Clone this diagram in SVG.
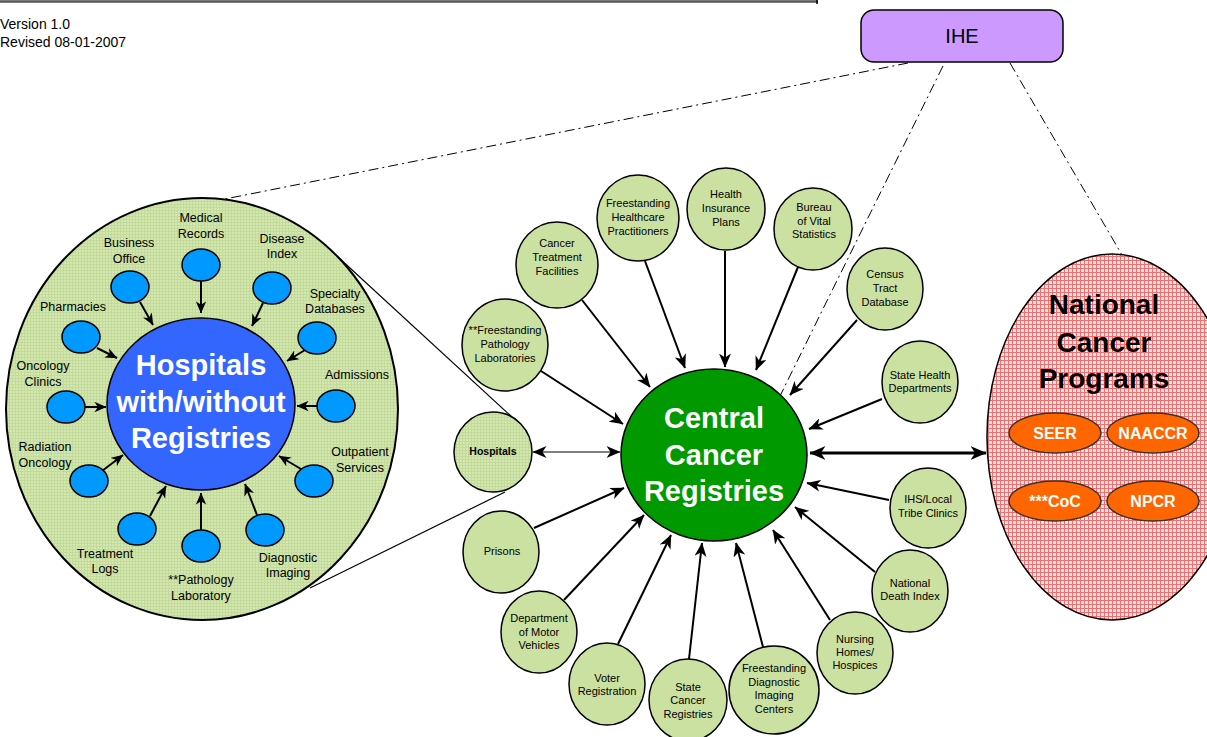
<svg xmlns="http://www.w3.org/2000/svg" width="1207" height="737" viewBox="0 0 1207 737">
<defs>
<pattern id="gridG" width="3" height="3" patternUnits="userSpaceOnUse">
<rect width="3" height="3" fill="#d3e7b0"/>
<path d="M0,0.5H3M0.5,0V3" stroke="#c3da9a" stroke-width="1"/>
</pattern>
<pattern id="gridR" width="4" height="4" patternUnits="userSpaceOnUse">
<rect width="4" height="4" fill="#ffe2e2"/>
<path d="M0,0.5H4M0.5,0V4" stroke="#ee7070" stroke-width="1"/>
</pattern>
<marker id="ah" viewBox="0 0 14 12" refX="13.5" refY="6" markerWidth="14" markerHeight="12" markerUnits="userSpaceOnUse" orient="auto-start-reverse">
<path d="M0,0 L14,6 L0,12 L4,6 Z" fill="#000"/>
</marker>
<marker id="ahs" viewBox="0 0 14 12" refX="13.5" refY="6" markerWidth="12" markerHeight="11" markerUnits="userSpaceOnUse" orient="auto-start-reverse">
<path d="M0,0 L14,6 L0,12 L4,6 Z" fill="#000"/>
</marker>
<marker id="ahb" viewBox="0 0 14 12" refX="13.5" refY="6" markerWidth="16" markerHeight="14" markerUnits="userSpaceOnUse" orient="auto-start-reverse">
<path d="M0,0 L14,6 L0,12 L4,6 Z" fill="#000"/>
</marker>
</defs>
<style>
.t{font-family:"Liberation Sans",Arial,sans-serif;fill:#000;}
.s{font-size:11px;text-anchor:middle;}
.h{font-size:12.5px;text-anchor:middle;}
.big{font-size:29px;font-weight:bold;fill:#fff;text-anchor:middle;}
.sat{fill:#cbe1a2;stroke:#000;stroke-width:1.5;}
.bl{fill:#0099ff;stroke:#000;stroke-width:1.5;}
.or{fill:#ff6600;stroke:#333;stroke-width:1.5;}
.ot{font-size:16px;font-weight:bold;fill:#fff;text-anchor:middle;}
.a{stroke:#000;stroke-width:2;fill:none;marker-end:url(#ah);}
.ai{stroke:#000;stroke-width:2;fill:none;marker-end:url(#ahs);}
.dd{stroke:#000;stroke-width:1;fill:none;stroke-dasharray:10,4,2,4;}
.thin{stroke:#000;stroke-width:1.2;fill:none;}
</style>
<rect width="1207" height="737" fill="#fff"/>
<g id="header">
<line x1="0" y1="1.5" x2="818" y2="1.5" stroke="#555" stroke-width="2.5"/>
<line x1="817" y1="0" x2="817" y2="4" stroke="#000" stroke-width="1.5"/>
<text class="t" x="0" y="29" font-size="14">Version 1.0</text>
<text class="t" x="0" y="47" font-size="14">Revised 08-01-2007</text>
</g>
<g id="hospitals-area">
<ellipse cx="202" cy="409" rx="196" ry="211" fill="url(#gridG)" stroke="#000" stroke-width="2"/>
</g>
<g id="connectors">
<line class="dd" x1="908" y1="63" x2="225" y2="199"/>
<line class="dd" x1="943" y1="66" x2="780" y2="396"/>
<line class="dd" x1="1010" y1="63" x2="1122" y2="255"/>
<line class="thin" x1="338" y1="257" x2="513" y2="418"/>
<line class="thin" x1="310" y1="588" x2="505" y2="492"/>
<line class="ai" x1="201" y1="281" x2="201" y2="313"/>
<line class="ai" x1="140" y1="302" x2="153" y2="325"/>
<line class="ai" x1="263" y1="303" x2="252" y2="326"/>
<line class="ai" x1="97" y1="348" x2="117" y2="358"/>
<line class="ai" x1="305" y1="350" x2="287" y2="361"/>
<line class="ai" x1="85" y1="407" x2="106" y2="407"/>
<line class="ai" x1="317" y1="406" x2="297" y2="406"/>
<line class="ai" x1="102" y1="471" x2="123" y2="455"/>
<line class="ai" x1="301" y1="469" x2="279" y2="456"/>
<line class="ai" x1="150" y1="516" x2="166" y2="486"/>
<line class="ai" x1="201" y1="530" x2="201" y2="493"/>
<line class="ai" x1="257" y1="515" x2="245" y2="484"/>
<line class="a" x1="541" y1="371" x2="623" y2="424"/>
<line class="a" x1="582" y1="300" x2="650" y2="387"/>
<line class="a" x1="645" y1="261" x2="685" y2="368"/>
<line class="a" x1="725" y1="251" x2="725" y2="367"/>
<line class="a" x1="798" y1="267" x2="756" y2="370"/>
<line class="a" x1="857" y1="320" x2="790" y2="395"/>
<line class="a" x1="882" y1="399" x2="809" y2="429"/>
<line class="a" x1="889" y1="500" x2="807" y2="483"/>
<line class="a" x1="875" y1="572" x2="795" y2="507"/>
<line class="a" x1="830" y1="620" x2="773" y2="530"/>
<line class="a" x1="763" y1="647" x2="736" y2="543"/>
<line class="a" x1="689" y1="659" x2="702" y2="543"/>
<line class="a" x1="618" y1="644" x2="671" y2="535"/>
<line class="a" x1="564" y1="600" x2="644" y2="515"/>
<line class="a" x1="534" y1="528" x2="624" y2="488"/>
<line stroke="#000" stroke-width="1.2" x1="533" y1="452" x2="620" y2="452" marker-start="url(#ah)" marker-end="url(#ah)"/>
<line stroke="#000" stroke-width="3" x1="810" y1="453" x2="986" y2="453" marker-start="url(#ahb)" marker-end="url(#ahb)"/>
</g>
<g id="ihe">
<rect x="861" y="10" width="202" height="52" rx="13" fill="#cc99ff" stroke="#000" stroke-width="1.5"/>
<text class="t" x="962" y="43" font-size="20" text-anchor="middle">IHE</text>
</g>
<g id="hospitals-core">
<ellipse cx="201" cy="404" rx="94" ry="86" fill="#3366ff" stroke="#000" stroke-width="1.5"/>
<text class="t big" x="201" y="375">Hospitals</text>
<text class="t big" x="201" y="412">with/without</text>
<text class="t big" x="201" y="448">Registries</text>
</g>
<g id="h-medical"><ellipse class="bl" cx="201" cy="265" rx="19" ry="16"/><text class="t h" x="201" y="222">Medical</text><text class="t h" x="201" y="238">Records</text></g>
<g id="h-business"><ellipse class="bl" cx="130" cy="287" rx="19" ry="16"/><text class="t h" x="129" y="247">Business</text><text class="t h" x="129" y="263">Office</text></g>
<g id="h-disease"><ellipse class="bl" cx="272" cy="288" rx="19" ry="16"/><text class="t h" x="282" y="243">Disease</text><text class="t h" x="282" y="258">Index</text></g>
<g id="h-pharm"><ellipse class="bl" cx="81" cy="337" rx="19" ry="16"/><text class="t h" x="73" y="311">Pharmacies</text></g>
<g id="h-special"><ellipse class="bl" cx="317" cy="338" rx="19" ry="16"/><text class="t h" x="335" y="298">Specialty</text><text class="t h" x="335" y="313">Databases</text></g>
<g id="h-onc"><ellipse class="bl" cx="66" cy="407" rx="19" ry="16"/><text class="t h" x="43" y="370">Oncology</text><text class="t h" x="43" y="386">Clinics</text></g>
<g id="h-adm"><ellipse class="bl" cx="336" cy="406" rx="19" ry="16"/><text class="t h" x="357" y="379">Admissions</text></g>
<g id="h-rad"><ellipse class="bl" cx="89" cy="481" rx="19" ry="16"/><text class="t h" x="45" y="451">Radiation</text><text class="t h" x="45" y="467">Oncology</text></g>
<g id="h-out"><ellipse class="bl" cx="314" cy="481" rx="19" ry="16"/><text class="t h" x="360" y="456">Outpatient</text><text class="t h" x="360" y="472">Services</text></g>
<g id="h-treat"><ellipse class="bl" cx="137" cy="529" rx="19" ry="16"/><text class="t h" x="105" y="558">Treatment</text><text class="t h" x="105" y="573">Logs</text></g>
<g id="h-path"><ellipse class="bl" cx="201" cy="546" rx="19" ry="16"/><text class="t h" x="201" y="584">**Pathology</text><text class="t h" x="201" y="600">Laboratory</text></g>
<g id="h-diag"><ellipse class="bl" cx="265" cy="530" rx="19" ry="16"/><text class="t h" x="288" y="562">Diagnostic</text><text class="t h" x="288" y="577">Imaging</text></g>
<g id="hospitals-small">
<ellipse cx="493" cy="452" rx="39" ry="40" fill="url(#gridG)" stroke="#000" stroke-width="1.5"/>
<text class="t" x="493" y="455" font-size="10.5" font-weight="bold" text-anchor="middle">Hospitals</text>
</g>
<g id="central">
<ellipse cx="714" cy="455" rx="93" ry="86" fill="#009900" stroke="#000" stroke-width="1.5"/>
<text class="t big" x="714" y="428">Central</text>
<text class="t big" x="714" y="465">Cancer</text>
<text class="t big" x="714" y="501">Registries</text>
</g>
<g id="s-fpl"><ellipse class="sat" cx="505" cy="345" rx="43" ry="46"/><text class="t s" x="505" y="334">**Freestanding</text><text class="t s" x="505" y="348">Pathology</text><text class="t s" x="505" y="362">Laboratories</text></g>
<g id="s-ctf"><ellipse class="sat" cx="557" cy="265" rx="41" ry="43"/><text class="t s" x="557" y="247">Cancer</text><text class="t s" x="557" y="261">Treatment</text><text class="t s" x="557" y="275">Facilities</text></g>
<g id="s-fhp"><ellipse class="sat" cx="638" cy="218" rx="41" ry="43"/><text class="t s" x="638" y="207">Freestanding</text><text class="t s" x="638" y="221">Healthcare</text><text class="t s" x="638" y="235">Practitioners</text></g>
<g id="s-hip"><ellipse class="sat" cx="726" cy="209" rx="39" ry="41"/><text class="t s" x="726" y="198">Health</text><text class="t s" x="726" y="212">Insurance</text><text class="t s" x="726" y="226">Plans</text></g>
<g id="s-bvs"><ellipse class="sat" cx="813" cy="229" rx="39" ry="41"/><text class="t s" x="814" y="211">Bureau</text><text class="t s" x="814" y="225">of Vital</text><text class="t s" x="814" y="238">Statistics</text></g>
<g id="s-ctd"><ellipse class="sat" cx="885" cy="289" rx="38" ry="41"/><text class="t s" x="885" y="278">Census</text><text class="t s" x="885" y="292">Tract</text><text class="t s" x="885" y="306">Database</text></g>
<g id="s-shd"><ellipse class="sat" cx="920" cy="382" rx="38" ry="41"/><text class="t s" x="920" y="379">State Health</text><text class="t s" x="920" y="392">Departments</text></g>
<g id="s-ihs"><ellipse class="sat" cx="928" cy="508" rx="38" ry="40"/><text class="t s" x="928" y="503">IHS/Local</text><text class="t s" x="928" y="517">Tribe Clinics</text></g>
<g id="s-ndi"><ellipse class="sat" cx="910" cy="591" rx="38" ry="41"/><text class="t s" x="910" y="587">National</text><text class="t s" x="910" y="600">Death Index</text></g>
<g id="s-nh"><ellipse class="sat" cx="855" cy="653" rx="38" ry="41"/><text class="t s" x="855" y="643">Nursing</text><text class="t s" x="855" y="656">Homes/</text><text class="t s" x="855" y="669">Hospices</text></g>
<g id="s-fdi"><ellipse class="sat" cx="774" cy="690" rx="45" ry="44"/><text class="t s" x="774" y="672">Freestanding</text><text class="t s" x="774" y="686">Diagnostic</text><text class="t s" x="774" y="699">Imaging</text><text class="t s" x="774" y="713">Centers</text></g>
<g id="s-scr"><ellipse class="sat" cx="688" cy="700" rx="39" ry="41"/><text class="t s" x="688" y="691">State</text><text class="t s" x="688" y="704">Cancer</text><text class="t s" x="688" y="718">Registries</text></g>
<g id="s-vr"><ellipse class="sat" cx="607" cy="684" rx="38" ry="41"/><text class="t s" x="607" y="682">Voter</text><text class="t s" x="607" y="695">Registration</text></g>
<g id="s-dmv"><ellipse class="sat" cx="539" cy="632" rx="38" ry="41"/><text class="t s" x="539" y="622">Department</text><text class="t s" x="539" y="636">of Motor</text><text class="t s" x="539" y="649">Vehicles</text></g>
<g id="s-pris"><ellipse class="sat" cx="501" cy="552" rx="38" ry="41"/><text class="t s" x="502" y="555">Prisons</text></g>
<g id="national">
<ellipse cx="1112" cy="437" rx="125" ry="183" fill="url(#gridR)" stroke="#000" stroke-width="1.5"/>
<text class="t" x="1104" y="314" font-size="28" font-weight="bold" text-anchor="middle">National</text>
<text class="t" x="1104" y="352" font-size="28" font-weight="bold" text-anchor="middle">Cancer</text>
<text class="t" x="1104" y="388" font-size="28" font-weight="bold" text-anchor="middle">Programs</text>
</g>
<g id="n-seer"><ellipse class="or" cx="1055" cy="433" rx="46" ry="20"/><text class="t ot" x="1055" y="439">SEER</text></g>
<g id="n-naaccr"><ellipse class="or" cx="1153" cy="433" rx="46" ry="20"/><text class="t ot" x="1153" y="439">NAACCR</text></g>
<g id="n-coc"><ellipse class="or" cx="1055" cy="501" rx="46" ry="20"/><text class="t ot" x="1055" y="507">***CoC</text></g>
<g id="n-npcr"><ellipse class="or" cx="1153" cy="501" rx="46" ry="20"/><text class="t ot" x="1153" y="507">NPCR</text></g>
</svg>
